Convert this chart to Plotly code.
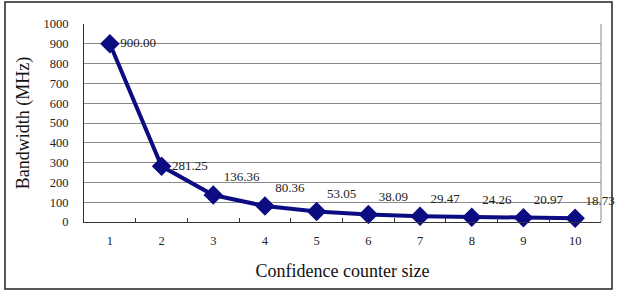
import plotly.graph_objects as go

categories = ["1", "2", "3", "4", "5", "6", "7", "8", "9", "10"]
bandwidth = [900.00, 281.25, 136.36, 80.36, 53.05, 38.09, 29.47, 24.26, 20.97, 18.73]
labels = ["%.2f" % v for v in bandwidth]
label_pos = ["middle right", "middle right"] + ["top right"] * (len(bandwidth) - 2)

FONT = "Liberation Serif"
NAVY = "#0b0b82"

fig = go.Figure()
fig.add_trace(go.Scatter(
    x=categories, y=bandwidth,
    mode="lines+markers+text",
    line=dict(color=NAVY, width=4),
    marker=dict(symbol="diamond", size=15, color=NAVY),
    text=labels, textposition=label_pos,
    textfont=dict(family=FONT, size=13, color="#222"),
    cliponaxis=False,
    showlegend=False,
))

W, H = 621, 293
L, R, T, B = 84, 20, 24, 71
pw, ph = W - L - R, H - T - B

fig.update_layout(
    width=W, height=H,
    margin=dict(l=L, r=R, t=T, b=B),
    paper_bgcolor="white", plot_bgcolor="white",
    font=dict(family=FONT, color="#222"),
    xaxis=dict(
        type="category", range=[-0.5, len(categories) - 0.5],
        tickson="boundaries", ticks="inside", ticklen=4, tickcolor="#333",
        showgrid=False, showline=True, linecolor="#333", linewidth=1,
        tickfont=dict(family=FONT, size=12.5, color="#222"),
        ticklabelstandoff=7,
        title=dict(text="Confidence counter size", font=dict(family=FONT, size=18, color="#111"), standoff=17),
        zeroline=False,
    ),
    yaxis=dict(
        range=[0, 1000], dtick=100,
        showgrid=True, gridcolor="#8a8a8a", gridwidth=1,
        showline=True, linecolor="#333", linewidth=1, ticks="",
        tickfont=dict(family=FONT, size=12.5, color="#222"),
        ticklabelstandoff=12,
        title=dict(text="Bandwidth (MHz)", font=dict(family=FONT, size=18, color="#111"), standoff=9),
        zeroline=False,
    ),
    shapes=[
        dict(type="line", xref="paper", yref="paper", x0=1, x1=1, y0=0, y1=1,
             line=dict(color="#8a8a8a", width=1)),
        dict(type="rect", xref="paper", yref="paper",
             x0=(5 - L) / pw, x1=(612 - L) / pw,
             y0=(T + ph - 289) / ph, y1=(T + ph - 2) / ph,
             line=dict(color="#222", width=1.5)),
    ],
)

fig.write_html("out.html")
